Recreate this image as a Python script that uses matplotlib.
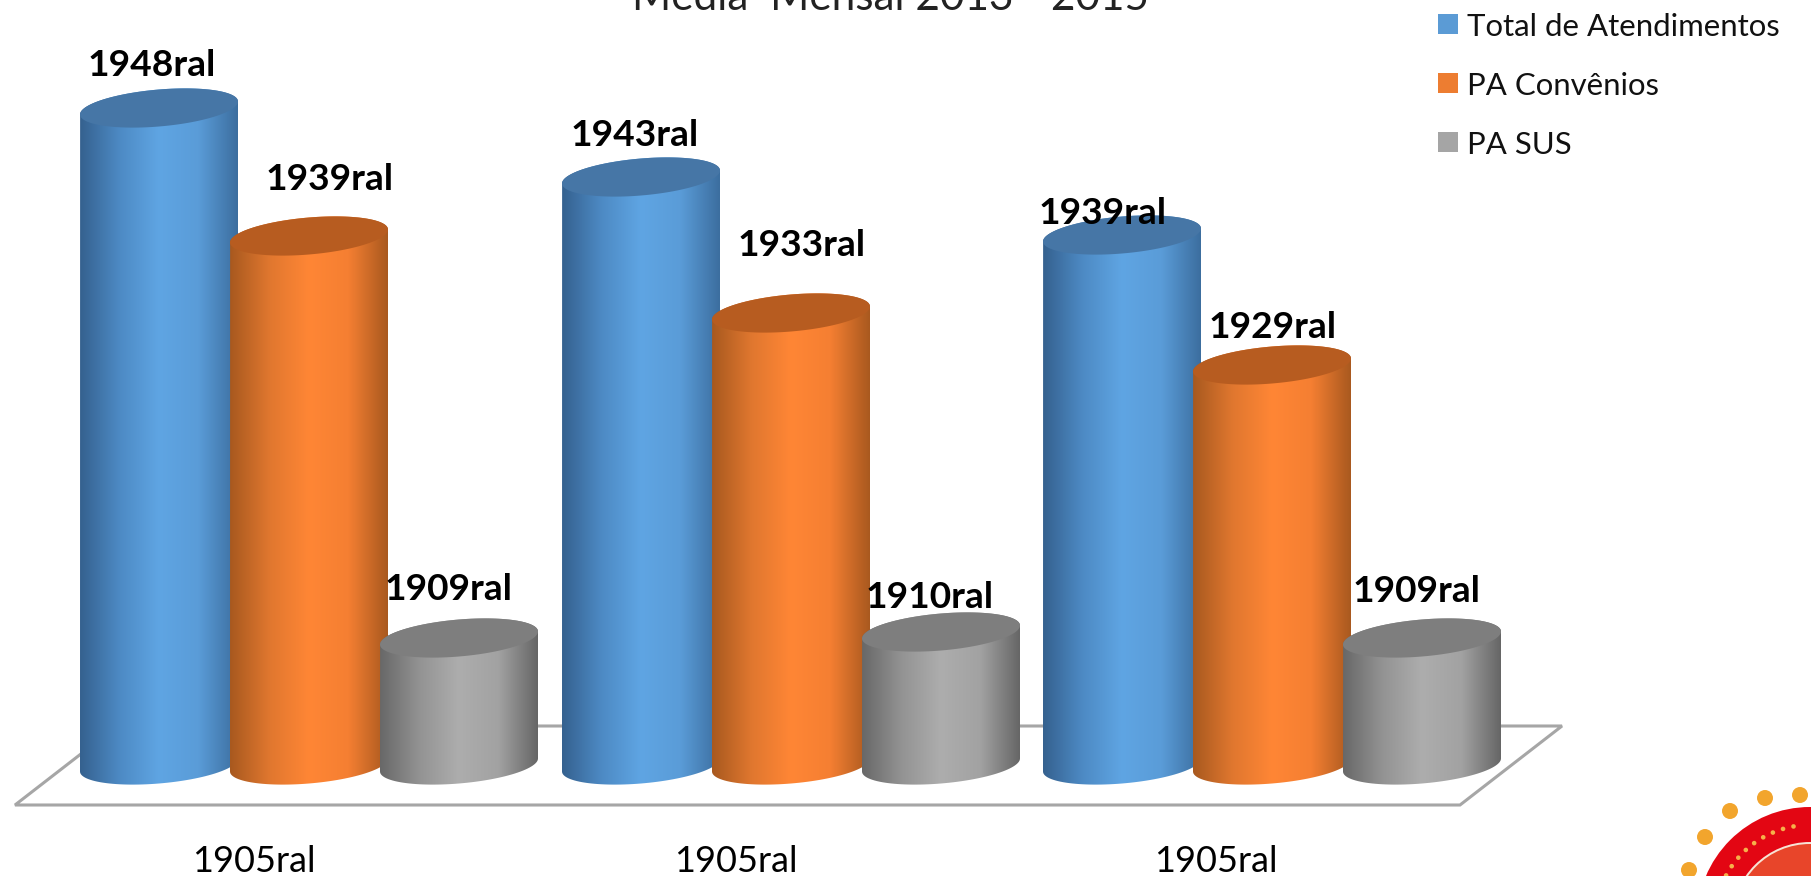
import numpy as np
import matplotlib
matplotlib.use("Agg")
import matplotlib.pyplot as plt
from matplotlib.colors import LinearSegmentedColormap
from matplotlib.patches import Circle, Polygon, Rectangle

plt.rcParams["font.family"] = ["Lato", "DejaVu Sans"]

W, H = 1811, 876
BASE = 765  # pixel row of the floor under the bars

# bar heights, measured in pixels since the labels are not on a linear scale
categories = ["1905ral", "1905ral", "1905ral"]
series_names = ["Total de Atendimentos", "PA Convênios", "PA SUS"]
total = [657, 588, 530]
convenios = [529, 452, 400]
sus = [127, 133, 127]
labels_total = ["1948ral", "1943ral", "1939ral"]
labels_conv = ["1939ral", "1933ral", "1929ral"]
labels_sus = ["1909ral", "1910ral", "1909ral"]

fig = plt.figure(figsize=(W / 100, H / 100), dpi=100)
ax = fig.add_axes([0, 0, 1, 1])
ax.set_xlim(0, W)
ax.set_ylim(BASE - H, BASE)
ax.axis("off")

styles = [
    (["#35618f", "#4d8ac4", "#5fa5e3", "#5a9cd8", "#3c6e9f"], "#4676a6", "#5b9bd5"),
    (["#a8591f", "#e0772f", "#ff8635", "#f57f32", "#a9591f"], "#b75c20", "#ed7d31"),
    (["#686868", "#939393", "#adadad", "#a2a2a2", "#666666"], "#7e7e7e", "#a5a5a5"),
]
group_x = [80, 562, 1043]
offsets = [0, 150, 300]
bw = 158


def outline(x0, h, half):
    # sheared ellipse, the sides of the cylinder stay vertical
    t = np.linspace(0, 2 * np.pi, 121)
    a = bw / 2
    xs = x0 + a + a * np.cos(t)
    ys = h + half * np.sin(t) + 6.5 * np.cos(t)
    return t, xs, ys


def cylinder(x0, h, s, z):
    cmap = LinearSegmentedColormap.from_list("c", s[0])
    t, xs, ys = outline(x0, h, 18.5)
    t, xb, yb = outline(x0, 0, 18.5)
    i = t >= np.pi
    # base arc, then straight up and back over the top
    px = np.concatenate([xb[i], xs[~i]])
    py = np.concatenate([yb[i], ys[~i]])
    patch = Polygon(np.column_stack([px, py]), closed=True, fc="none", ec="none", zorder=z)
    ax.add_patch(patch)
    im = ax.imshow(np.linspace(0, 1, 256)[None, :], cmap=cmap, aspect="auto",
                   extent=(x0, x0 + bw, -30, h + 30), zorder=z, interpolation="bilinear")
    im.set_clip_path(patch)
    ax.fill(xs, ys, color=s[1], lw=0, zorder=z + 0.1)


# floor of the chart
ax.add_patch(Polygon([(15, BASE - 805), (1460, BASE - 805), (1562, BASE - 726), (117, BASE - 726)],
                     closed=True, fc="white", ec="#a6a6a6", lw=2.2, zorder=1))

z = 2
for g, x in enumerate(group_x):
    for s, vals, off in zip(styles, [total, convenios, sus], offsets):
        cylinder(x + off, vals[g], s, z)
        z += 1
ax.set_xlim(0, W)
ax.set_ylim(BASE - H, BASE)

label_pos = [
    (labels_total, [(152, 66), (635, 135), (1103, 213)]),
    (labels_conv, [(330, 180), (802, 246), (1273, 328)]),
    (labels_sus, [(449, 590), (930, 598), (1417, 591)]),
]
for labs, pos in label_pos:
    for t, (x, y) in zip(labs, pos):
        ax.text(x, BASE - y, t, ha="center", va="center", fontsize=26.7, fontweight="bold",
                color="black", zorder=100)

for t, x in zip(categories, [254, 736, 1216]):
    ax.text(x, BASE - 862, t, ha="center", va="center", fontsize=26, color="black", zorder=100)

ax.text(890, BASE - 10, "Média  Mensal 2013 - 2015", ha="center", va="baseline", fontsize=30.4,
        color="#222222", zorder=100)

# legend
for name, s, y in zip(series_names, styles, [24, 83, 142]):
    ax.add_patch(Rectangle((1438, BASE - y - 10), 20, 20, fc=s[2], ec="none", zorder=100))
    ax.text(1467, BASE - y - 3, name, ha="left", va="center", fontsize=22.4, color="#111111", zorder=100)

# logo in the corner, cut by the edge of the page
cx, cy = 1810, BASE - 920
ax.add_patch(Circle((cx, cy), 113, fc="#e30613", ec="none", zorder=50))
ax.add_patch(Circle((cx, cy), 78, fc="#f7e3d5", ec="none", zorder=51))
ax.add_patch(Circle((cx, cy), 76, fc="#e8452a", ec="none", zorder=52))
for a in np.radians(np.arange(100, 215, 6.5)):
    ax.add_patch(Circle((cx + 95 * np.cos(a), cy + 95 * np.sin(a)), 2.3, fc="#f6b04a", ec="none", zorder=53))
for x, y in [(1800, 795), (1765, 798), (1730, 811), (1705, 837), (1689, 870)]:
    ax.add_patch(Circle((x, BASE - y), 8, fc="#f2a52d", ec="none", zorder=53))

fig.savefig("out.png", dpi=100)
